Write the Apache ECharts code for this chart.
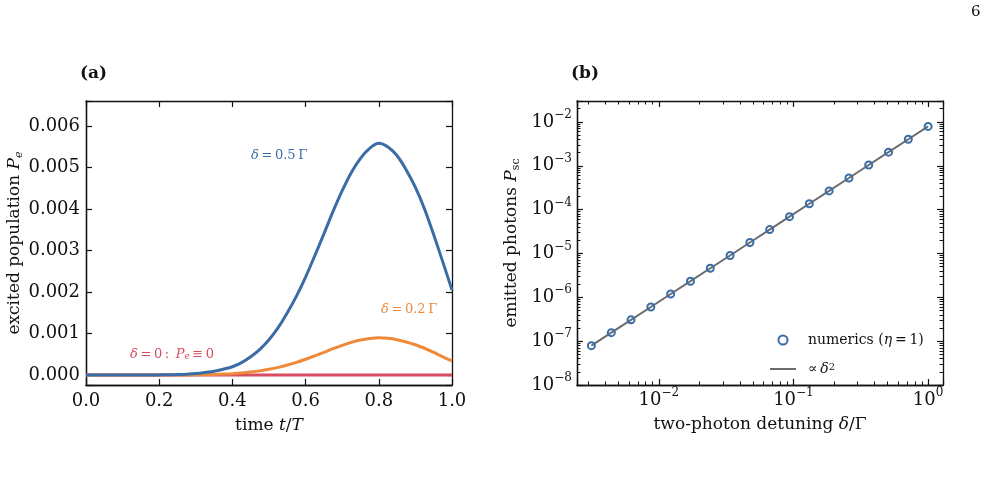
<!DOCTYPE html>
<html lang="en">
<head>
<meta charset="UTF-8" />
<title>Excited population and emitted photons</title>
<script src="https://cdn.jsdelivr.net/npm/echarts@6/dist/echarts.min.js"></script>
<style>
  html, body { margin: 0; padding: 0; background: #fff; }
  #chart { width: 989px; height: 477px; }
</style>
</head>
<body>
<div id="chart"></div>
<script>
// panel (a): excited population vs time t/T
const timeSteps = [0, 0.025, 0.05, 0.075, 0.1, 0.125, 0.15, 0.175, 0.2, 0.225,
  0.25, 0.275, 0.3, 0.325, 0.35, 0.375, 0.4, 0.425, 0.45, 0.475,
  0.5, 0.525, 0.55, 0.575, 0.6, 0.625, 0.65, 0.675, 0.7, 0.725,
  0.75, 0.775, 0.8, 0.825, 0.85, 0.875, 0.9, 0.925, 0.95, 0.975, 1.0];
const popHalf = [0, 0, 0, 0, 0, 0, 0.000001, 0.000002, 0.000003, 0.000006,
  0.00001, 0.00002, 0.000035, 0.00006, 0.00009, 0.00014, 0.0002, 0.0003, 0.00044, 0.00062,
  0.00085, 0.00114, 0.0015, 0.0019, 0.00236, 0.00287, 0.0034, 0.00394, 0.00444, 0.00488,
  0.00522, 0.00546, 0.00558, 0.00549, 0.00528, 0.00494, 0.00452, 0.004, 0.00338, 0.00272, 0.00205];
const popFifth = [0, 0, 0, 0, 0, 0, 0, 0, 0.0000005, 0.000001,
  0.0000016, 0.000003, 0.0000056, 0.00001, 0.000014, 0.000022, 0.000032, 0.000048, 0.000071, 0.0001,
  0.000137, 0.000184, 0.000242, 0.000306, 0.00038, 0.000463, 0.000548, 0.000635, 0.000716, 0.000787,
  0.000842, 0.00088, 0.0009, 0.000885, 0.000851, 0.000797, 0.000729, 0.000645, 0.000545, 0.000439, 0.00034];
const popZero = [0, 0, 0, 0, 0, 0, 0, 0, 0, 0,
  0, 0, 0, 0, 0, 0, 0, 0, 0, 0,
  0, 0, 0, 0, 0, 0, 0, 0, 0, 0,
  0, 0, 0, 0, 0, 0, 0, 0, 0, 0, 0];

// panel (b): emitted photons vs two-photon detuning
const detuning = [0.00316, 0.00444, 0.00622, 0.00873, 0.01225, 0.01719, 0.02412, 0.03384, 0.04748,
  0.06661, 0.09346, 0.1311, 0.184, 0.2582, 0.3622, 0.5082, 0.7131, 1.0];
const numerics = [7.9e-8, 1.56e-7, 3.06e-7, 6.0e-7, 1.19e-6, 2.33e-6, 4.6e-6, 9.0e-6, 1.78e-5,
  3.5e-5, 6.9e-5, 1.36e-4, 2.67e-4, 5.27e-4, 1.04e-3, 2.04e-3, 4.02e-3, 7.9e-3];
const fitLine = [7.9e-8, 1.56e-7, 3.06e-7, 6.0e-7, 1.19e-6, 2.33e-6, 4.6e-6, 9.0e-6, 1.78e-5,
  3.5e-5, 6.9e-5, 1.36e-4, 2.67e-4, 5.27e-4, 1.04e-3, 2.04e-3, 4.02e-3, 7.9e-3];

const xMinB = 0.00247, xMaxB = 1.29;
const yMinB = 1e-8, yMaxB = 0.03;

const blue = '#3a6ca6';
const orange = '#ee8a3a';
const red = '#d64d60';
const grey = '#6c6c70';
const ink = '#111';
const serif = "'DejaVu Serif', serif";

function pow10Label(v) {
  const e = Math.round(Math.log10(v));
  return '{b|10}{s|' + (e < 0 ? '\u2212' + (-e) : e) + '}';
}
const powRich = {
  b: { fontFamily: serif, fontSize: 18, color: ink, lineHeight: 26 },
  s: { fontFamily: serif, fontSize: 12, color: ink, verticalAlign: 'top', lineHeight: 12 }
};

function nameStyle(size) {
  return {
    fontFamily: serif, fontSize: size, color: ink, lineHeight: 20,
    rich: {
      i: { fontFamily: serif, fontStyle: 'italic', fontSize: size, color: ink },
      sub: { fontFamily: serif, fontStyle: 'italic', fontSize: 11, color: ink, verticalAlign: 'bottom', lineHeight: 12 },
      subr: { fontFamily: serif, fontSize: 11, color: ink, verticalAlign: 'bottom', lineHeight: 12 }
    }
  };
}

// axis that carries labels and name (no ticks)
function labelAxis(opts) {
  return Object.assign({
    axisLine: { show: true, onZero: false, lineStyle: { color: ink, width: 1.3 } },
    axisTick: { show: false },
    splitLine: { show: false },
    minorTick: { show: false }
  }, opts);
}

// frame side with inward ticks only
function tickAxis(opts) {
  return Object.assign({
    axisLine: { show: true, onZero: false, lineStyle: { color: ink, width: 1.3 } },
    axisTick: { show: true, inside: true, length: 6, lineStyle: { color: ink, width: 1.2 } },
    axisLabel: { show: false },
    splitLine: { show: false }
  }, opts);
}

const logMinor = { show: true, splitNumber: 9, length: 3.5, lineStyle: { color: ink, width: 1 } };

const option = {
  backgroundColor: '#fff',
  animation: false,
  grid: [
    { left: 86, top: 101, width: 366, height: 284, containLabel: false, outerBoundsMode: 'none' },
    { left: 577, top: 101, width: 366, height: 284, containLabel: false, outerBoundsMode: 'none' }
  ],
  xAxis: [
    labelAxis({
      gridIndex: 0, type: 'value', position: 'bottom', min: 0, max: 1, interval: 0.2,
      axisLabel: { show: true, margin: 6, fontFamily: serif, fontSize: 18, color: ink, lineHeight: 20,
        formatter: v => v.toFixed(1) },
      name: 'time {i|t}/{i|T}', nameLocation: 'middle', nameGap: 30, nameTextStyle: nameStyle(17)
    }),
    tickAxis({ gridIndex: 0, type: 'value', position: 'bottom', min: 0, max: 1, interval: 0.2 }),
    tickAxis({ gridIndex: 0, type: 'value', position: 'top', min: 0, max: 1, interval: 0.2 }),
    labelAxis({
      gridIndex: 1, type: 'log', position: 'bottom', min: xMinB, max: xMaxB,
      axisLabel: { show: true, margin: 2, showMinLabel: false, showMaxLabel: false,
        formatter: pow10Label, rich: powRich },
      name: 'two-photon detuning {i|δ}/Γ', nameLocation: 'middle', nameGap: 30, nameTextStyle: nameStyle(17)
    }),
    tickAxis({ gridIndex: 1, type: 'log', position: 'bottom', min: xMinB, max: xMaxB, minorTick: logMinor }),
    tickAxis({ gridIndex: 1, type: 'log', position: 'top', min: xMinB, max: xMaxB, minorTick: logMinor })
  ],
  yAxis: [
    labelAxis({
      gridIndex: 0, type: 'value', position: 'left', min: -0.00024, max: 0.0066,
      axisLabel: { show: true, margin: 6, showMinLabel: false, showMaxLabel: false,
        fontFamily: serif, fontSize: 18, color: ink, formatter: v => v.toFixed(3) },
      name: 'excited population {i|P}{sub|e}', nameLocation: 'middle', nameGap: 60, nameTextStyle: nameStyle(17)
    }),
    tickAxis({ gridIndex: 0, type: 'value', position: 'left', min: -0.00024, max: 0.0066 }),
    tickAxis({ gridIndex: 0, type: 'value', position: 'right', min: -0.00024, max: 0.0066 }),
    labelAxis({
      gridIndex: 1, type: 'log', position: 'left', min: yMinB, max: yMaxB,
      axisLabel: { show: true, margin: 5, showMaxLabel: false, formatter: pow10Label, rich: powRich },
      name: 'emitted photons {i|P}{subr|sc}', nameLocation: 'middle', nameGap: 55, nameTextStyle: nameStyle(17)
    }),
    tickAxis({ gridIndex: 1, type: 'log', position: 'left', min: yMinB, max: yMaxB, minorTick: logMinor }),
    tickAxis({ gridIndex: 1, type: 'log', position: 'right', min: yMinB, max: yMaxB, minorTick: logMinor })
  ],
  legend: {
    left: 770, top: 333, orient: 'vertical', padding: 0,
    itemWidth: 26, itemHeight: 9, itemGap: 15,
    data: [
      { name: 'numerics', icon: 'circle' },
      { name: 'fit', icon: 'path://M0,0 L26,0 L26,2 L0,2 Z' }
    ],
    formatter: name => name === 'numerics' ? 'numerics ({i|η}\u2009=\u20091)' : '\u221d\u2009{i|δ}{sup|2}',
    textStyle: {
      fontFamily: serif, fontSize: 14, color: ink, padding: [0, 0, 0, 7],
      rich: {
        i: { fontFamily: serif, fontStyle: 'italic', fontSize: 14, color: ink },
        sup: { fontFamily: serif, fontSize: 10, color: ink, verticalAlign: 'top', lineHeight: 10 }
      }
    }
  },
  series: [
    {
      name: 'zero', type: 'line', xAxisIndex: 0, yAxisIndex: 0,
      data: timeSteps.map((t, i) => [t, popZero[i]]),
      symbol: 'none', lineStyle: { color: red, width: 3 }, z: 2
    },
    {
      name: 'fifth', type: 'line', xAxisIndex: 0, yAxisIndex: 0,
      data: timeSteps.map((t, i) => [t, popFifth[i]]), smooth: 0.3,
      symbol: 'none', lineStyle: { color: orange, width: 3 }, z: 3
    },
    {
      name: 'half', type: 'line', xAxisIndex: 0, yAxisIndex: 0,
      data: timeSteps.map((t, i) => [t, popHalf[i]]), smooth: 0.3,
      symbol: 'none', lineStyle: { color: blue, width: 3 }, z: 4
    },
    {
      name: 'fit', type: 'line', xAxisIndex: 3, yAxisIndex: 3,
      data: detuning.map((d, i) => [d, fitLine[i]]),
      symbol: 'none', lineStyle: { color: grey, width: 2 }, itemStyle: { color: grey }, z: 2
    },
    {
      name: 'numerics', type: 'scatter', xAxisIndex: 3, yAxisIndex: 3,
      data: detuning.map((d, i) => [d, numerics[i]]),
      symbol: 'circle', symbolSize: 7,
      itemStyle: { color: 'rgba(0,0,0,0)', borderColor: blue, borderWidth: 2, opacity: 1 }, z: 3
    }
  ],
  graphic: [
    { type: 'text', left: 80, top: 65, style: { text: '(a)', font: "bold 17px 'DejaVu Serif'", fill: ink } },
    { type: 'text', left: 571, top: 65, style: { text: '(b)', font: "bold 17px 'DejaVu Serif'", fill: ink } },
    { type: 'text', left: 971, top: 5, style: { text: '6', font: "15px 'DejaVu Serif'", fill: ink } },
    {
      type: 'text', left: 251, top: 149,
      style: { text: '{i|δ}\u2009=\u20090.5\u2009Γ', fontFamily: serif, fontSize: 13, fill: blue,
        rich: { i: { fontFamily: serif, fontStyle: 'italic', fontSize: 13, fill: blue } } }
    },
    {
      type: 'text', left: 381, top: 303,
      style: { text: '{i|δ}\u2009=\u20090.2\u2009Γ', fontFamily: serif, fontSize: 13, fill: orange,
        rich: { i: { fontFamily: serif, fontStyle: 'italic', fontSize: 13, fill: orange } } }
    },
    {
      type: 'text', left: 130, top: 348,
      style: { text: '{i|δ}\u2009=\u20090\u2009:\u2002{i|P}{sub|e}\u2009≡\u20090', fontFamily: serif, fontSize: 13, fill: red,
        rich: {
          i: { fontFamily: serif, fontStyle: 'italic', fontSize: 13, fill: red },
          sub: { fontFamily: serif, fontStyle: 'italic', fontSize: 9, fill: red, verticalAlign: 'bottom', lineHeight: 9 }
        } }
    }
  ]
};

const chart = echarts.init(document.getElementById('chart'));
chart.setOption(option);
</script>
</body>
</html>
